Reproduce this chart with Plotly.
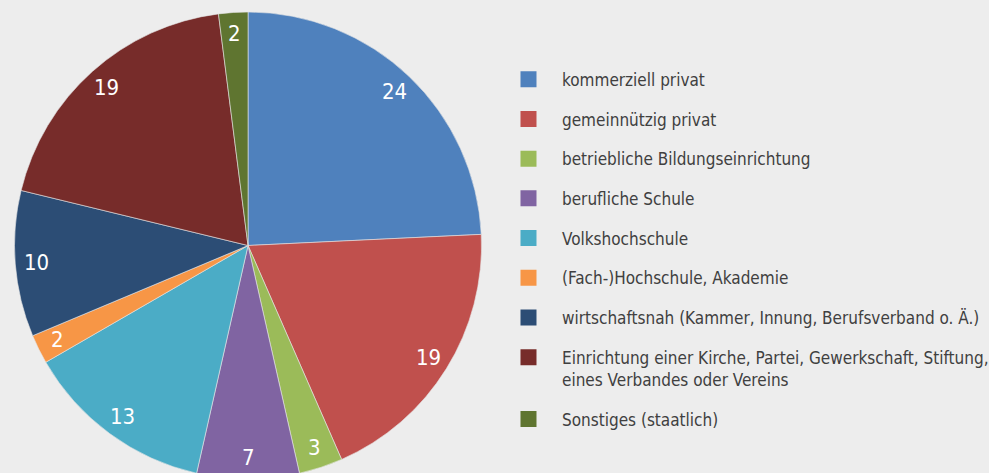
import math
import plotly.graph_objects as go

categories = [
    "kommerziell privat",
    "gemeinnützig privat",
    "betriebliche Bildungseinrichtung",
    "berufliche Schule",
    "Volkshochschule",
    "(Fach-)Hochschule, Akademie",
    "wirtschaftsnah (Kammer, Innung, Berufsverband o. Ä.)",
    "Einrichtung einer Kirche, Partei, Gewerkschaft, Stiftung,<br>eines Verbandes oder Vereins",
    "Sonstiges (staatlich)",
]
values = [24, 19, 3, 7, 13, 2, 10, 19, 2]
colors = ["#4F81BD", "#C0504D", "#9BBB59", "#8064A2", "#4BACC6",
          "#F79646", "#2C4D75", "#772C2A", "#5F7530"]

FONT = "DejaVu Sans Condensed"
BG = "#EDEDED"

W, H = 989, 481
MT, MB = 12, 2
PH = H - MT - MB
dom_x = [0.01466, 0.4869]
dom_y = [0.0, 1.0]

fig = go.Figure()
fig.add_trace(go.Pie(
    labels=categories,
    values=values,
    marker=dict(colors=colors, line=dict(color="#E6E6E6", width=0.6)),
    sort=False,
    direction="clockwise",
    rotation=0,
    textinfo="none",
    showlegend=False,
    domain=dict(x=dom_x, y=dom_y),
    hoverinfo="label+value",
))

# value labels placed near the outer edge of each slice (derived from values)
cx_px = (dom_x[0] + dom_x[1]) / 2 * W
radius_px = PH / 2
total = sum(values)
cum = 0
for v in values:
    mid = (cum + v / 2) / total * 2 * math.pi
    cum += v
    r = 0.91 * radius_px
    x_px = cx_px + r * math.sin(mid)
    y_off = r * math.cos(mid)
    fig.add_annotation(
        x=x_px / W, y=0.5 + y_off / PH, xref="paper", yref="paper",
        text=str(v), showarrow=False, xanchor="center", yanchor="middle",
        font=dict(family=FONT, size=22, color="white"),
    )

# legend entries
for i, (cat, col) in enumerate(zip(categories, colors)):
    fig.add_trace(go.Scatter(
        x=[None], y=[None], mode="markers", name=cat,
        marker=dict(symbol="square", size=19, color=col),
        legendgroup=f"g{i}", showlegend=True,
    ))

fig.update_layout(
    width=W, height=H,
    margin=dict(l=0, r=0, t=MT, b=MB, autoexpand=False),
    paper_bgcolor=BG, plot_bgcolor=BG,
    xaxis=dict(visible=False), yaxis=dict(visible=False),
    legend=dict(
        x=0.5005, y=0.8936, xanchor="left", yanchor="top",
        font=dict(family=FONT, size=17, color="#404040"),
        itemwidth=57, tracegroupgap=14.6, valign="top",
        bgcolor="rgba(0,0,0,0)",
    ),
)

fig.write_html(
    "out.html",
    config={"displayModeBar": False},
    post_script="document.body.style.margin='0';document.body.style.overflow='hidden';",
)
